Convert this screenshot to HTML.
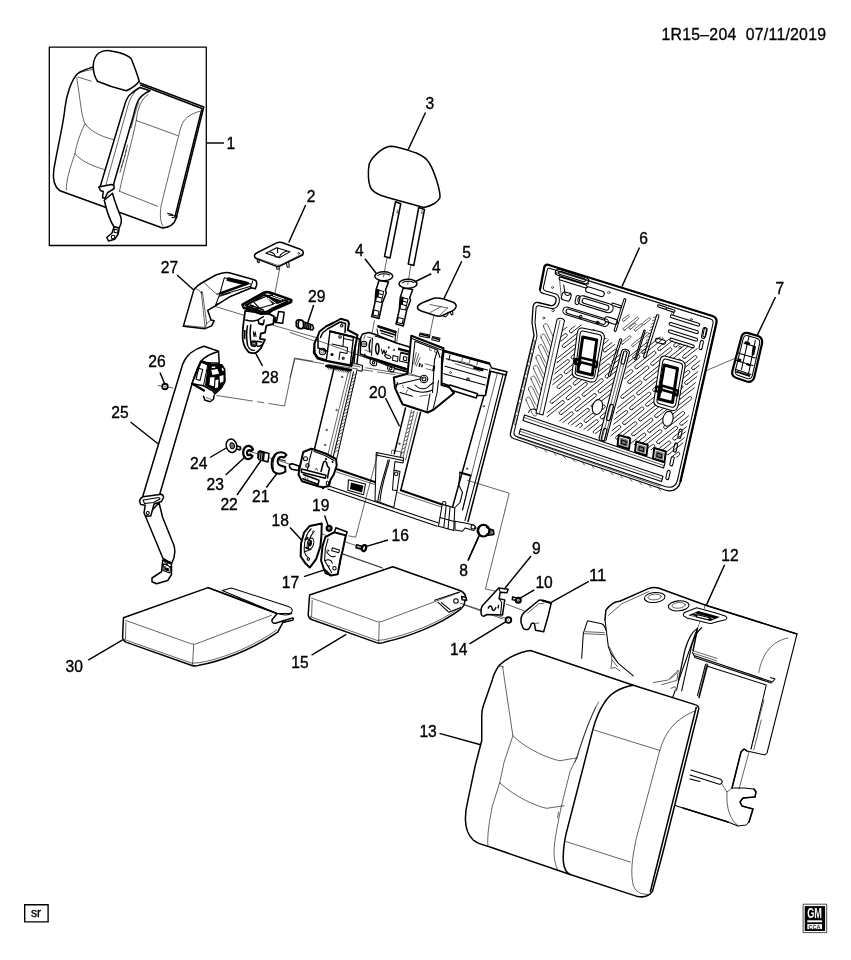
<!DOCTYPE html>
<html><head><meta charset="utf-8">
<style>
html,body{margin:0;padding:0;background:#fff;}
svg{display:block;filter:grayscale(1);}
svg *{vector-effect:non-scaling-stroke;}
.k{fill:none;stroke:#000;stroke-width:1.5;stroke-linejoin:round;stroke-linecap:round;}
.m{fill:none;stroke:#000;stroke-width:1.05;stroke-linejoin:round;stroke-linecap:round;}
.t{fill:none;stroke:#111;stroke-width:0.65;stroke-linejoin:round;stroke-linecap:round;}
.kw{fill:#fff;stroke:#000;stroke-width:1.5;stroke-linejoin:round;stroke-linecap:round;}
.mw{fill:#fff;stroke:#000;stroke-width:1.05;stroke-linejoin:round;stroke-linecap:round;}
.tw{fill:#fff;stroke:#111;stroke-width:0.65;stroke-linejoin:round;}
.b{fill:#000;stroke:none;}
.g{fill:#777;stroke:none;}
.ld{fill:none;stroke:#000;stroke-width:1.45;stroke-linecap:butt;}
.dash{fill:none;stroke:#000;stroke-width:0.8;stroke-dasharray:22 3 5 3;}
text{font-family:"Liberation Sans",sans-serif;font-size:15px;fill:#000;stroke:#000;stroke-width:0.36px;}
</style></head><body>
<svg width="851" height="960" viewBox="0 0 851 960">
<rect x="0" y="0" width="851" height="960" fill="#fff"/>
<text x="661.5" y="40.1" style="font-size:15.8px;stroke-width:0.3px" textLength="164.5" lengthAdjust="spacing" xml:space="preserve">1R15–204  07/11/2019</text>
<!-- inset box + part 1 -->
<rect x="49.3" y="47.2" width="157" height="198.3" class="k" style="stroke-width:1.3"/>
<g transform="translate(40,40) scale(0.25)">
 <!-- seat back outline -->
 <path class="k" d="M213,108 C190,115 162,124 150,135 C125,160 106,220 100,270 C95,330 70,430 55,520 C50,560 60,590 80,603 L490,752 C520,750 537,738 545,712 L655,268 L400,172"/>
 <path class="k" d="M402,180 L648,274 L540,706"/>
 <path class="t" d="M150,135 C170,125 195,120 213,118"/>
 <path class="t" d="M147,150 L162,255 C168,300 175,325 180,335 C210,375 265,392 300,400"/>
 <path class="t" d="M180,335 C160,375 145,420 140,455 C170,490 225,510 265,520"/>
 <path class="t" d="M140,455 C120,510 105,560 105,600"/>
 <path class="t" d="M152,148 L205,165"/>
 <!-- headrest -->
 <path class="kw" d="M213,105 C213,85 220,65 235,52 C250,42 270,40 290,45 C320,50 350,60 365,75 C375,100 390,140 397,165 C385,180 365,195 345,203 C310,195 260,178 230,165 C220,150 213,125 213,105 Z"/>
 <!-- right panel stitching -->
 <path class="t" d="M640,285 C600,295 575,315 565,345 C555,375 500,600 485,660 C478,700 482,730 492,745"/>
 <path class="t" d="M385,322 L550,382"/>
 <path class="t" d="M318,605 L470,665"/>
 <path class="t" d="M432,218 C405,235 390,275 385,322 C370,400 330,540 318,605"/>
 <!-- belt -->
 <path class="kw" d="M239,592 L341,252 C348,232 355,222 363,216 C375,205 390,196 400,190 L440,203 C420,212 400,226 391,246 C382,266 378,285 374,302 L292,585 Z"/>
 <path class="t" d="M380,208 C368,222 358,240 352,262 L262,585 M395,250 C385,275 380,295 365,350"/>
 <path class="t" d="M350,420 l-8,30 M346,440 l-8,30 M340,460 l-8,30 M334,480 l-8,30 M328,500 l-8,30"/>
 <path class="kw" d="M257,641 C268,690 282,725 296,748 L317,751 C326,735 328,720 322,705 C312,680 300,650 290,613 Z"/>
 <path class="kw" d="M235,588 L285,578 L296,581 L296,595 L271,610 L260,633 L250,631 L253,606 L242,602 Z"/>
 <path class="kw" d="M296,748 L317,752 L313,776 L299,797 L274,804 L267,790 L288,772 Z"/>
 <circle cx="292" cy="788" r="7" class="m"/>
 <path class="m" d="M298,757 L312,760 L310,772 L296,769 Z"/>
 <!-- clip bottom right -->
 <path class="m" d="M510,693 L530,698 M515,700 L548,705 L546,712 L528,710"/>
</g>
<path class="ld" d="M207,143 L224,143"/>
<text x="226.6" y="149.1" style="font-size:16.8px" textLength="8.7" lengthAdjust="spacingAndGlyphs">1</text>
<!-- headrest 3, guides 4, cap 5 -->
<g transform="translate(330,90) scale(0.25)">
 <path class="kw" d="M262,447 L283,455 L240,672 L218,666 Z"/>
 <path class="kw" d="M355,470 L378,478 L335,702 L313,696 Z"/>
 <path class="t" d="M268,490 l6,3 M366,492 l6,3 M270,480 l-2,10 M369,482 l-2,10"/>
 <path class="kw" d="M240,225 C210,230 170,265 157,295 C150,330 153,375 165,395 C175,410 200,422 230,430 L375,470 C400,466 432,450 440,430 C442,400 415,320 397,292 C385,272 365,260 345,252 C310,240 270,225 240,225 Z"/>
 <path class="ld" d="M382,90 L312,240"/>
 <!-- center lines -->
 <path class="t" d="M228,672 L216,735 M323,702 L313,765"/>
 <!-- left guide -->
 <g>
  <path class="kw" d="M196,762 L234,768 L222,800 L225,812 L210,850 L196,914 L167,906 L180,850 L184,800 Z"/>
  <path class="m" d="M190,800 L215,806 L205,850 L183,845 Z M186,812 L208,818 M185,826 L206,832"/>
  <path class="m" d="M176,880 L196,885 L192,905 L172,900 Z"/>
  <path class="b" d="M184,795 L198,798 L194,830 L182,826 Z"/>
  <ellipse cx="215" cy="745" rx="36" ry="18" class="kw"/>
  <path class="m" d="M192,742 C200,734 225,733 238,740"/>
  <path class="t" d="M216,735 L214,748"/>
 </g>
 <!-- right guide -->
 <g transform="translate(97,30)">
  <path class="kw" d="M196,762 L234,768 L222,800 L225,812 L210,850 L196,914 L167,906 L180,850 L184,800 Z"/>
  <path class="m" d="M190,800 L215,806 L205,850 L183,845 Z M186,812 L208,818 M185,826 L206,832"/>
  <path class="m" d="M176,880 L196,885 L192,905 L172,900 Z"/>
  <path class="b" d="M184,795 L198,798 L194,830 L182,826 Z"/>
  <ellipse cx="215" cy="745" rx="36" ry="18" class="kw"/>
  <path class="m" d="M192,742 C200,734 225,733 238,740"/>
  <path class="t" d="M216,735 L214,748"/>
 </g>
 <path class="ld" d="M140,675 L186,735"/>
 <path class="ld" d="M405,735 L338,768"/>
 <!-- cap 5 -->
 <path class="kw" d="M350,868 C352,860 360,855 372,850 L415,833 C425,830 440,832 455,836 L490,848 C500,852 506,860 504,868 C500,878 492,884 480,888 L450,902 C440,906 430,905 420,902 L365,884 C355,880 349,875 350,868 Z"/>
 <path class="t" d="M400,858 L470,872 M445,866 L400,890 M470,872 L440,900"/>
 <path class="m" d="M450,902 L462,908 L472,898 L470,892 M480,888 L486,900 L492,896 L490,884"/>
 <path class="ld" d="M527,685 L455,836"/>
 <path class="t" d="M415,903 L400,975 M178,923 L167,978 M275,953 L267,1008"/>
</g>
<text x="425.6" y="109.1" style="font-size:16.8px" textLength="8.7" lengthAdjust="spacingAndGlyphs">3</text>
<text x="355.0" y="255.7" style="font-size:16.8px" textLength="8.7" lengthAdjust="spacingAndGlyphs">4</text>
<text x="432.0" y="272.7" style="font-size:16.8px" textLength="8.7" lengthAdjust="spacingAndGlyphs">4</text>
<text x="462.3" y="257.7" style="font-size:16.8px" textLength="8.7" lengthAdjust="spacingAndGlyphs">5</text>
<!-- parts 2, 27, 28, 29 : 6x zoom origin (180,230) -->
<g transform="translate(180,230) scale(0.166667)">
 <!-- axis lines -->
 <path class="t" d="M200,455 L385,512 M560,572 L851,655 M598,232 L570,378"/>
 <!-- part 2 -->
 <path class="m" d="M462,178 L468,196 L476,194 L474,180 M580,218 L582,236 L594,234 L596,216 M638,198 L644,224 L656,222 L652,192"/>
 <path class="kw" d="M447,152 C448,145 455,140 465,135 L580,77 C590,72 602,72 612,75 L725,117 C737,122 742,132 738,145 L735,150 L605,214 C595,219 585,220 575,217 L458,172 C450,168 446,160 447,152 Z"/>
 <path class="t" d="M452,165 L580,210 C590,213 598,212 606,208 L737,142"/>
 <path class="m" d="M515,140 L580,106 L660,130 L598,166 Z"/>
 <path class="m" d="M540,132 C560,135 570,145 572,160 M640,128 C615,135 600,145 598,163 M572,160 L598,163 M585,108 L586,135"/>
 <circle cx="712" cy="140" r="5" class="t"/>
 <!-- part 27 -->
 <path class="kw" d="M20,578 L82,362 C95,340 118,324 140,312 L215,270 C245,257 275,252 295,256 L445,298 C460,303 463,318 458,335 L452,352 L428,347 L300,400 L212,455 L166,482 L186,540 L205,545 L190,575 L150,592 Z"/>
 <path class="m" d="M266,286 L428,326 L422,348 M266,286 L240,380 L222,386 M432,322 L436,304"/>
 <path class="k" style="stroke-width:2.2" d="M290,290 L400,316 M285,300 L395,326"/>
 <path class="k" style="stroke-width:2.4" d="M240,381 L408,320"/>
 <path class="m" d="M248,390 L425,338 M236,398 L300,378 M212,455 L240,380 M300,400 L428,347"/>
 <path class="b" d="M208,447 L232,436 L226,450 Z"/>
 <path class="t" d="M128,376 L150,580 M135,376 L160,560 M160,560 L186,540 M150,592 L160,560"/>
 <path class="t" d="M95,352 C110,360 120,368 128,376 M140,312 C170,340 200,370 222,386"/>
 <circle cx="129" cy="374" r="4" class="t"/>
 <path class="t" d="M22,572 L150,585"/>
 <!-- part 28 -->
 <path class="kw" d="M592,489 L625,494 L616,560 L578,555 Z"/>
 <path class="b" d="M566,520 L580,522 L576,560 L562,556 Z"/>
 <path class="kw" style="stroke-width:1.8" d="M391,485 L379,574 C375,610 376,640 377,658 C380,680 385,695 391,705 L412,733 C425,740 440,740 452,738 C465,732 478,720 485,710 L510,658 L480,653 L485,621 L510,616 L518,574 L560,564 L564,518 L528,500 Z"/>
 <path class="k" d="M395,540 C420,548 450,546 470,538 L500,520 M405,575 C398,610 398,650 405,690 M425,570 C418,610 420,650 428,690 M470,538 L472,560 L500,566 L505,540"/>
 <path class="m" d="M440,610 l4,30 l8,-28 l4,28 M405,690 C412,712 430,724 448,722"/>
 <circle cx="444" cy="682" r="16" class="k"/><circle cx="444" cy="682" r="8" class="m"/>
 <path class="k" d="M462,668 L490,672 M464,696 C474,700 482,696 488,690"/>
 <path class="b" d="M384,600 L394,600 L392,660 L384,650 Z M476,560 L500,566 L498,574 L474,568 Z"/>
 <path class="kw" style="stroke-width:2.6" d="M375,448 L500,378 C510,373 522,371 534,374 L668,420 L666,432 L556,480 C545,488 535,495 527,500 L485,502 L382,467 Z"/>
 <path class="k" style="stroke-width:2" d="M395,452 L505,390 L645,428 L548,474 L520,490 L488,490 Z"/>
 <path class="mw" d="M440,430 L520,398 L560,445 L478,470 Z"/>
 <path class="b" d="M520,392 L560,384 L640,420 L590,442 L562,444 Z"/>
 <path class="t" style="stroke:#fff;stroke-width:1" d="M545,398 L610,420 M560,392 L625,415 M530,410 L575,440"/>
 <path class="k" d="M400,462 L488,492 M420,450 L500,480 M460,476 l6,-12 M430,465 l6,-12"/>
 <!-- bolt 29 -->
 <path class="kw" d="M738,550 L795,570 L802,590 L794,600 L736,586 Z"/>
 <path class="k" d="M752,556 L749,590 M763,560 L760,593 M774,564 L771,596 M785,568 L782,598"/>
 <path class="kw" style="stroke-width:1.8" d="M698,548 C703,537 720,536 736,544 C744,555 744,577 736,590 C720,594 703,587 698,575 Z"/>
 <path class="k" d="M716,541 C708,555 708,575 714,589"/>
 <path class="ld" d="M495,815 L455,742"/>
</g>
<path class="ld" d="M313.7,305 L307.3,324"/>
<path class="ld" d="M305.7,205 L288.7,242.5"/>
<path class="ld" d="M177,275 L193.7,290"/>
<text x="261.3" y="382.6" style="font-size:16.8px" textLength="17.4" lengthAdjust="spacingAndGlyphs">28</text>
<text x="308.0" y="302.0" style="font-size:16.8px" textLength="17.4" lengthAdjust="spacingAndGlyphs">29</text>
<text x="306.7" y="202.0" style="font-size:16.8px" textLength="8.7" lengthAdjust="spacingAndGlyphs">2</text>
<text x="160.7" y="273.1" style="font-size:16.8px" textLength="17.4" lengthAdjust="spacingAndGlyphs">27</text>
<!-- belt 25, retractor, nut 26, parts 21-24 : 4x zoom origin (100,330) -->
<g transform="translate(100,330) scale(0.25)">
 <!-- dash axis -->
 <path class="t" d="M232,222 L292,232 M467,262 L610,284 M630,287 L655,291 M675,294 L738,304 L778,112 L851,125"/>
 <!-- belt upper -->
 <path class="kw" d="M166,682 L331,136 C345,100 380,75 416,65 L474,85 L477,133 L400,130 C385,160 376,190 371,206 L238,660 Z"/>
 <path class="k" d="M474,86 C440,95 415,110 401,128"/>
 <!-- retractor -->
 <path class="kw" d="M405,127 L431,139 L487,139 L499,158 L500,207 L487,230 L459,256 L454,245 L414,223 L369,215 L371,206 Z"/>
 <path class="b" d="M431,139 L487,139 L499,158 L500,207 L487,230 L462,250 L452,240 L420,222 Z"/>
 <path d="M445,160 L470,156 L476,175 L450,180 Z M478,185 L494,180 L494,205 L480,212 Z M440,190 L458,188 L456,225 L438,220 Z M462,200 L474,198 L472,230 L460,232 Z M490,150 L496,160 L492,166 L486,156 Z M448,146 L462,146 L460,152 L446,152 Z" style="fill:#fff"/>
 <path class="k" style="stroke-width:2.4" d="M405,126 L440,136 M369,215 L416,242"/>
 <path class="m" d="M395,153 L411,158 L400,202 L384,197 Z M431,139 L414,223"/>
 <path class="m" d="M454,245 L459,256 L487,230"/>
 <path class="kw" d="M414,265 L419,280 L440,287 L454,277 L456,262"/>
 <path class="t" d="M425,270 L445,278"/>
 <!-- nut 26 -->
 <circle cx="260" cy="226" r="11" class="kw" style="stroke-width:1.8"/>
 <circle cx="260" cy="226" r="4" class="g"/>
 <!-- belt lower -->
 <path class="kw" d="M183,748 L252,914 L286,934 C297,915 302,885 296,862 L251,751 L236,691 Z"/>
 <path class="kw" d="M158,683 C160,675 165,670 172,667 L246,657 C252,660 255,664 254,670 L246,686 L216,696 L208,726 L203,744 L181,744 L176,731 L181,701 L163,698 Z"/>
 <path class="m" d="M172,680 L236,670 L240,676 L214,690 L178,694 Z"/>
 <circle cx="191" cy="732" r="6" class="m"/>
 <!-- anchor -->
 <path class="kw" d="M251,920 L286,936 L286,978 L271,1002 L226,1015 L208,1007 L208,992 L246,967 Z"/>
 <path class="m" d="M254,935 L282,946 L280,972 L252,962 Z M256,925 L280,950 M280,925 L258,948"/>
 <path class="b" d="M258,948 L276,954 L275,966 L257,960 Z"/>
 <!-- 24 -->
 <path class="kw" d="M535,460 L562,468 L560,480 L533,472 Z"/>
 <ellipse cx="526" cy="463" rx="21" ry="27" class="kw" transform="rotate(-15 526 463)"/>
 <ellipse cx="529" cy="463" rx="9" ry="12" class="g" transform="rotate(-15 529 463)"/>
 <ellipse cx="529" cy="463" rx="9" ry="12" class="m" transform="rotate(-15 529 463)"/>
 <!-- center line -->
 <path class="t" d="M562,474 L770,540"/>
 <!-- 23 -->
 <path class="kw" style="stroke-width:2.2" d="M612,478 C605,462 588,458 578,472 C568,488 572,510 588,516 C598,518 606,512 610,504 L600,498 C594,504 588,500 588,490 C590,480 598,478 604,484 Z"/>
 <!-- 22 -->
 <path class="kw" d="M640,484 L676,494 L672,528 L636,518 Z"/>
 <path class="b" d="M630,488 C630,482 640,480 652,484 L660,490 L656,524 C645,526 632,520 628,512 Z"/>
 <path class="t" style="stroke:#fff" d="M640,492 L637,516 M648,494 L645,520"/>
 <!-- 21 -->
 <path class="kw" style="stroke-width:2" d="M746,500 C735,485 712,485 698,500 C684,518 682,548 694,566 C706,578 728,578 742,566 L740,548 L722,542 C712,540 708,528 712,516 C716,508 726,506 736,510 Z"/>
 <path class="m" d="M694,566 C690,545 692,515 704,498 M712,516 L742,524 M722,542 L744,548"/>
 <!-- shaft stub -->
 <path class="kw" d="M764,536 L800,546 L798,560 L762,552 C758,548 758,540 764,536 Z"/>
 <!-- leaders -->
 <path class="ld" d="M240,170 L258,214 M122,368 L232,455 M440,510 L508,470 M503,580 L582,506 M548,660 L644,522 M665,630 L708,574 M760,790 L812,846"/>
</g>
<text x="148.2" y="367.3" style="font-size:16.8px" textLength="17.4" lengthAdjust="spacingAndGlyphs">26</text>
<text x="111.3" y="418.3" style="font-size:16.8px" textLength="17.4" lengthAdjust="spacingAndGlyphs">25</text>
<text x="190.0" y="468.5" style="font-size:16.8px" textLength="17.4" lengthAdjust="spacingAndGlyphs">24</text>
<text x="206.6" y="490.3" style="font-size:16.8px" textLength="17.4" lengthAdjust="spacingAndGlyphs">23</text>
<text x="220.4" y="510.3" style="font-size:16.8px" textLength="17.4" lengthAdjust="spacingAndGlyphs">22</text>
<text x="252.0" y="501.7" style="font-size:16.8px" textLength="17.4" lengthAdjust="spacingAndGlyphs">21</text>
<text x="271.6" y="525.7" style="font-size:16.8px" textLength="17.4" lengthAdjust="spacingAndGlyphs">18</text>
<!-- frame 20 : 4x zoom origin (290,310) -->
<g transform="translate(290,310) scale(0.25)">
 <!-- assembly lines -->
 <path class="t" d="M0,90 L110,128 M130,135 L480,245 L520,265"/>
 <path class="t" d="M0,270 L20,195 L135,215 M155,218 L330,245 M350,248 L420,258"/>
 <!-- left upright -->
 <path class="k" d="M178,225 L97,560"/>
 <path class="t" d="M233,247 L150,585 M244,247 L160,595"/>
 <path class="m" d="M254,247 L172,592 M271,227 L186,600"/>
 <g class="t"><path d="M252,262 l14,-8 M249,276 l14,-8 M246,290 l14,-8 M242,304 l14,-8 M239,318 l14,-8 M235,332 l14,-8 M232,346 l14,-8 M228,360 l14,-8 M225,374 l14,-8 M221,388 l14,-8 M218,402 l14,-8 M214,416 l14,-8 M211,430 l14,-8 M207,444 l14,-8 M204,458 l14,-8 M200,472 l14,-8 M197,486 l14,-8 M193,500 l14,-8 M190,514 l14,-8 M186,528 l14,-8 M183,542 l14,-8 M179,556 l14,-8 M176,570 l14,-8"/></g>
 <path class="k" style="stroke-width:2" d="M150,222 L245,240"/>
 <path class="t" d="M150,230 L240,247"/>
 <circle cx="208" cy="268" r="3" class="t"/><circle cx="186" cy="400" r="3" class="t"/><circle cx="146" cy="480" r="3" class="t"/><circle cx="140" cy="540" r="3" class="t"/>
 <!-- center upright -->
 <path class="k" d="M462,392 L417,575"/>
 <path class="k" d="M522,410 L443,721"/>
 <path class="t" d="M486,400 L440,590 M497,404 L452,590 M510,408 L462,600"/>
 <g class="t"><path d="M485,412 l11,-5 M481,428 l11,-5 M477,444 l11,-5 M473,460 l11,-5 M469,476 l11,-5 M465,492 l11,-5 M461,508 l11,-5 M457,524 l11,-5 M453,540 l11,-5 M449,556 l11,-5 M445,572 l11,-5"/></g>
 <circle cx="437" cy="535" r="3" class="t"/>
 <!-- right upright -->
 <path class="k" d="M776,342 L736,480 L649,792"/>
 <path class="t" d="M831,247 L771,480 L690,800"/>
 <path class="m" d="M854,250 L796,480 L700,842"/>
 <path class="k" d="M867,248 L807,480 L712,846"/>
 <circle cx="775" cy="385" r="3" class="t"/><circle cx="708" cy="635" r="3" class="t"/>
 <path class="k" style="stroke-width:2" d="M680,650 L722,662"/>
 <!-- bottom rail -->
 <path class="k" style="stroke-width:2" d="M186,636 L345,690 M443,721 L649,792"/>
 <path class="t" d="M186,648 L345,700 M430,730 L612,790"/>
 <path class="m" d="M161,706 L594,852 M151,716 L589,865"/>
 <path class="m" d="M234,679 L302,696 L294,739 L231,721 Z"/>
 <path class="b" d="M244,690 L294,703 L288,730 L240,716 Z"/>
 <!-- rail end block -->
 <path class="mw" d="M609,777 L659,792 L655,882 L594,865 Z"/>
 <path class="m" d="M625,782 L615,870 M640,790 L632,876 M600,830 L657,846"/>
 <circle cx="617" cy="773" r="7" class="mw"/>
 <path class="m" d="M680,650 L675,700 L690,730 L680,770 L660,790 M722,662 L700,760 L690,800"/>
 <path class="mw" d="M660,845 L700,852 L735,860 L745,872 L735,882 L700,872 L690,885 L660,880 Z"/>
 <circle cx="732" cy="868" r="8" class="mw"/>
 <!-- center upright bottom bracket -->
 <path class="mw" d="M345,570 L455,592 L452,612 L420,606 L416,640 L440,646 L428,722 L415,790 L340,762 Z"/>
 <path class="m" d="M345,580 L452,602 M398,600 C385,650 365,700 360,765 M392,600 C380,650 360,700 352,762 M416,640 L410,720 L428,722"/>
 <circle cx="425" cy="655" r="7" class="m"/>
 <path class="t" d="M405,575 L408,560 L445,568 L443,590"/>
 <!-- lower left hinge bracket -->
 <path class="kw" d="M-2,619 L9,615 L37,625 L34,642 L6,637 L-2,627 Z"/>
 <path class="kw" style="stroke-width:2" d="M53,568 L85,555 L96,558 L144,575 L184,596 L187,622 L175,658 L161,681 L156,704 L133,709 L116,706 L48,685 L34,658 L40,625 Z"/>
 <path class="m" d="M88,562 L78,598 L70,640 M96,566 L140,582 L176,602"/>
 <path class="k" d="M46,636 L144,661 L141,673 L46,649 Z M54,658 L116,681 L113,698 L51,675"/>
 <path class="k" d="M124,646 L133,613 C136,604 142,602 146,610 L150,625 L158,633 L153,655 L150,672"/>
 <circle cx="62" cy="595" r="8" class="m"/><circle cx="70" cy="622" r="7" class="m"/>
 <circle cx="144" cy="596" r="4.5" class="b"/><circle cx="170" cy="608" r="4" class="b"/>
 <ellipse cx="150" cy="693" rx="5" ry="8" class="m"/><circle cx="132" cy="712" r="5" class="b"/>
 <path class="t" d="M62,668 l-3,14 M72,671 l-3,14 M100,640 l6,-8 l4,10"/>
 <!-- top-left bracket -->
 <path class="kw" style="stroke-width:2" d="M110,108 L118,86 L145,65 L176,50 L203,35 L231,43 L236,53 L231,80 L270,100 L262,140 L246,224 L145,204 L110,194 L95,171 L98,133 Z"/>
 <path class="k" d="M122,110 L130,92 L150,76 L200,48 L222,54 L220,90"/>
 <path class="mw" style="stroke-width:1.4" d="M160,85 L254,108 L241,220 L145,202 L150,165 Z"/>
 <path class="k" style="stroke-width:2.2" d="M160,85 L254,108"/>
 <path class="m" d="M168,136 L230,150 L228,174 L200,168 L196,198 M215,102 L212,145 M250,122 L215,114"/>
 <path class="k" d="M98,133 L100,172 L112,190 L145,200 M150,165 L112,152 L112,112"/>
 <circle cx="130" cy="166" r="13" class="m"/><circle cx="130" cy="166" r="7" class="t"/>
 <circle cx="200" cy="108" r="7" class="b"/><circle cx="200" cy="108" r="3" style="fill:#fff"/>
 <circle cx="168" cy="178" r="6" class="b"/><circle cx="213" cy="193" r="4" class="m"/>
 <circle cx="207" cy="63" r="5" class="m"/><path class="t" d="M207,45 L207,58"/>
 <path class="k" style="stroke-width:2.4" d="M145,224 L241,241"/>
 <path class="t" d="M150,230 l6,8 M160,232 l6,8 M170,234 l6,8 M180,236 l6,8 M190,238 l6,8 M200,240 l6,8 M210,242 l6,8 M220,243 l6,8 M230,245 l6,8"/>
 <!-- upright top tube -->
 <path class="k" d="M254,108 L278,116 L268,215 M262,140 L256,215"/>
 <path class="mw" d="M262,215 L290,222 L288,245 L272,242"/>
 <!-- center latch -->
 <path class="kw" d="M290,96 L316,90 L347,100 L422,131 L488,151 L488,252 L412,232 L322,191 L281,176 L283,110 Z"/>
 <path class="k" style="stroke-width:2.8" d="M354,66 L422,88"/>
 <path class="k" style="stroke-width:1.8" d="M362,82 L422,100"/>
 <path class="m" d="M348,76 L352,98 M422,90 L420,130 M365,92 L412,108 M340,104 L420,128"/>
 <circle cx="296" cy="136" r="11" class="m"/><circle cx="296" cy="136" r="5" class="t"/>
 <path class="k" d="M346,136 C340,150 342,172 350,178 C356,170 358,150 354,138 M322,120 C316,135 316,155 320,168"/>
 <path class="m" d="M366,156 l4,20 l6,-16 l5,18 l5,-14 M330,112 L326,182"/>
 <circle cx="350" cy="135" r="4" class="b"/><circle cx="395" cy="150" r="4" class="b"/><circle cx="415" cy="160" r="3" class="t"/>
 <path class="m" d="M378,182 C384,176 398,180 404,190 C398,198 384,194 378,182 Z M412,182 L432,187 L430,206 L410,201 Z M442,172 L478,180 L474,212 L438,204 Z M455,186 L468,189 L466,203 L453,200 Z"/>
 <path class="b" d="M432,150 L486,164 L486,174 L432,160 Z M442,166 L480,175 L480,180 L442,171 Z"/>
 <path class="k" style="stroke-width:2.6" d="M322,192 L462,236"/>
 <path class="mw" d="M322,196 L348,205 L345,222 C335,226 322,220 320,210 Z M392,222 L418,230 L415,246 C405,250 392,244 390,234 Z"/>
 <circle cx="334" cy="211" r="5" class="m"/><circle cx="403" cy="234" r="5" class="m"/>
 <path class="m" d="M425,222 L470,236 L468,252 M300,176 L296,186 L320,196"/>
 <path class="t" d="M300,100 l-4,16 M310,108 l16,4 M300,160 l14,6"/>
 <!-- right latch section -->
 <path class="kw" d="M616,164 L797,214 L807,232 L867,247 L864,260 L802,245 L782,342 L747,342 L636,302 L600,290 Z"/>
 <path class="k" style="stroke-width:2.4" d="M616,164 L797,214"/>
 <path class="m" d="M625,195 L790,240 M620,225 L785,272 M615,255 L780,300 M640,180 L636,200 M800,235 L782,330"/>
 <path class="t" d="M650,205 C680,200 720,215 760,235 M660,215 L760,245 M690,190 l-3,14 M720,198 l-3,14 M750,206 l-3,14"/>
 <path class="b" d="M735,225 L775,236 L772,246 L732,235 Z"/>
 <circle cx="712" cy="277" r="5" class="m"/><circle cx="642" cy="250" r="4" class="t"/>
 <path class="kw" d="M640,300 L750,335 L745,352 L630,316 Z"/>
 <!-- big center bracket -->
 <path class="mw" d="M520,92 L560,100 L557,112 L517,104 Z M570,106 L600,113 L597,126 L567,119 Z"/>
 <path class="b" d="M522,94 L558,102 L556,108 L520,100 Z M572,108 L598,115 L596,121 L570,114 Z"/>
 <path class="kw" style="stroke-width:2" d="M485,103 L614,153 L608,191 L606,300 L636,308 L656,332 L575,398 L551,410 L450,377 L420,312 L415,270 L470,255 L480,160 Z"/>
 <path class="m" d="M490,115 L606,160 M500,125 L590,160 L578,200 L570,330 M500,125 L486,250 M590,160 L600,190"/>
 <path class="t" d="M505,170 L495,215 M515,175 L500,220 M520,190 L505,225 M560,150 l-2,10 l8,2 M580,158 l-2,10 l8,2 M540,215 L575,225 M545,235 L572,242"/>
 <path class="b" d="M517,212 l6,2 l-3,14 l-6,-2 Z M527,216 l5,2 l-3,12 l-5,-2 Z M573,222 l8,2 l-4,22 l-8,-2 Z"/>
 <circle cx="536" cy="276" r="15" class="mw"/><circle cx="536" cy="276" r="8" class="m"/>
 <path class="m" d="M420,300 C460,290 500,280 520,276 M500,300 C520,320 545,320 560,300 L575,290 M470,310 C500,330 540,335 570,320 M440,330 L490,345 M430,290 L425,310"/>
 <path class="m" d="M594,282 L588,332 L572,398 M560,335 L548,405"/>
 <path class="t" d="M450,300 l4,10 M470,320 l-6,12 M520,345 l30,-5"/>
 <!-- label 20 leader -->
 <path class="ld" d="M382,352 L438,465"/>
</g>
<text x="369.0" y="397.6" style="font-size:16.8px" textLength="17.4" lengthAdjust="spacingAndGlyphs">20</text>
<path class="t" d="M317.5,340.4 L424,378.5 M329.7,361.8 L360,366.8 M366,367.8 L421.4,377"/>
<!-- panel 6 : 4x zoom origin (505,240) -->
<g transform="translate(505,240) scale(0.25)">
<path class="kw" style="stroke-width:1.3" d="M172,99 C164,98 159,102 157,110 L140,198 C140,206 146,212 154,214 L196,226 C204,229 206,238 203,248 C200,258 192,264 182,262 L132,250 C120,248 113,256 112,268 L108,330 L116,382 L22,772 C20,782 24,790 34,794 L640,1000 C660,1006 676,1004 688,992 C696,985 700,975 702,965 L846,330 C848,318 842,308 830,304 Z"/>
<path class="k" style="stroke-width:2.3" d="M140,198 L157,110 C159,102 164,98 172,99 L830,304 C842,308 848,318 846,330 L702,965"/>
<path class="m" d="M178,113 C173,112 170,115 169,120 L153,192 C153,198 157,202 163,204 L204,216 C216,220 220,236 216,252 C212,266 200,276 186,274 L136,263 C128,262 124,266 124,274 L120,330 L128,384 L36,770 C35,778 38,782 44,785 L640,986 C656,991 668,990 678,982 C685,976 688,968 690,960 L832,334 C834,324 830,318 822,316 Z"/>
<defs>
<clipPath id="cpA"><path d="M232,350 L330,335 L470,440 L385,782 L165,708 Z"/></clipPath>
<clipPath id="cpB"><path d="M500,455 L600,380 L790,440 L700,875 L420,792 Z"/></clipPath>
</defs>
<g clip-path="url(#cpA)"><path class="t" style="stroke-width:0.85;stroke:#000" d="M203.2,383.8 L275.2,326.5 A6.5,6.5 0 0 0 267.1,316.4 L195.1,373.6 A6.5,6.5 0 0 0 203.2,383.8 Z M175.2,443.0 L247.2,385.7 A6.5,6.5 0 0 0 239.1,375.6 L167.1,432.8 A6.5,6.5 0 0 0 175.2,443.0 Z M267.2,369.8 L339.2,312.6 A6.5,6.5 0 0 0 331.1,302.4 L259.1,359.7 A6.5,6.5 0 0 0 267.2,369.8 Z M239.2,429.0 L311.2,371.8 A6.5,6.5 0 0 0 303.1,361.6 L231.1,418.9 A6.5,6.5 0 0 0 239.2,429.0 Z M211.1,488.2 L283.1,431.0 A6.5,6.5 0 0 0 275.0,420.8 L203.0,478.1 A6.5,6.5 0 0 0 211.1,488.2 Z M303.2,415.1 L375.2,357.8 A6.5,6.5 0 0 0 367.1,347.6 L295.1,404.9 A6.5,6.5 0 0 0 303.2,415.1 Z M183.1,547.4 L255.1,490.2 A6.5,6.5 0 0 0 247.0,480.0 L175.0,537.3 A6.5,6.5 0 0 0 183.1,547.4 Z M275.1,474.3 L347.1,417.0 A6.5,6.5 0 0 0 339.0,406.8 L267.0,464.1 A6.5,6.5 0 0 0 275.1,474.3 Z M367.2,401.1 L439.2,343.9 A6.5,6.5 0 0 0 431.1,333.7 L359.1,390.9 A6.5,6.5 0 0 0 367.2,401.1 Z M155.0,606.6 L227.1,549.4 A6.5,6.5 0 0 0 219.0,539.2 L146.9,596.5 A6.5,6.5 0 0 0 155.0,606.6 Z M247.1,533.5 L319.1,476.2 A6.5,6.5 0 0 0 311.0,466.0 L239.0,523.3 A6.5,6.5 0 0 0 247.1,533.5 Z M339.1,460.3 L411.1,403.1 A6.5,6.5 0 0 0 403.0,392.9 L331.0,450.1 A6.5,6.5 0 0 0 339.1,460.3 Z M219.0,592.7 L291.1,535.4 A6.5,6.5 0 0 0 283.0,525.2 L210.9,582.5 A6.5,6.5 0 0 0 219.0,592.7 Z M311.1,519.5 L383.1,462.3 A6.5,6.5 0 0 0 375.0,452.1 L303.0,509.3 A6.5,6.5 0 0 0 311.1,519.5 Z M403.1,446.4 L475.1,389.1 A6.5,6.5 0 0 0 467.0,378.9 L395.0,436.2 A6.5,6.5 0 0 0 403.1,446.4 Z M191.0,651.9 L263.0,594.6 A6.5,6.5 0 0 0 254.9,584.4 L182.9,641.7 A6.5,6.5 0 0 0 191.0,651.9 Z M283.0,578.7 L355.1,521.5 A6.5,6.5 0 0 0 347.0,511.3 L274.9,568.5 A6.5,6.5 0 0 0 283.0,578.7 Z M375.1,505.6 L447.1,448.3 A6.5,6.5 0 0 0 439.0,438.1 L367.0,495.4 A6.5,6.5 0 0 0 375.1,505.6 Z M163.0,711.1 L235.0,653.8 A6.5,6.5 0 0 0 226.9,643.6 L154.9,700.9 A6.5,6.5 0 0 0 163.0,711.1 Z M255.0,637.9 L327.0,580.7 A6.5,6.5 0 0 0 318.9,570.5 L246.9,627.7 A6.5,6.5 0 0 0 255.0,637.9 Z M347.0,564.8 L419.1,507.5 A6.5,6.5 0 0 0 411.0,497.3 L338.9,554.6 A6.5,6.5 0 0 0 347.0,564.8 Z M439.1,491.6 L511.1,434.3 A6.5,6.5 0 0 0 503.0,424.2 L431.0,481.4 A6.5,6.5 0 0 0 439.1,491.6 Z M227.0,697.1 L299.0,639.9 A6.5,6.5 0 0 0 290.9,629.7 L218.9,686.9 A6.5,6.5 0 0 0 227.0,697.1 Z M319.0,624.0 L391.0,566.7 A6.5,6.5 0 0 0 382.9,556.5 L310.9,613.8 A6.5,6.5 0 0 0 319.0,624.0 Z M411.0,550.8 L483.1,493.5 A6.5,6.5 0 0 0 475.0,483.4 L402.9,540.6 A6.5,6.5 0 0 0 411.0,550.8 Z M198.9,756.3 L270.9,699.1 A6.5,6.5 0 0 0 262.8,688.9 L190.8,746.1 A6.5,6.5 0 0 0 198.9,756.3 Z M291.0,683.2 L363.0,625.9 A6.5,6.5 0 0 0 354.9,615.7 L282.9,673.0 A6.5,6.5 0 0 0 291.0,683.2 Z M383.0,610.0 L455.0,552.7 A6.5,6.5 0 0 0 446.9,542.6 L374.9,599.8 A6.5,6.5 0 0 0 383.0,610.0 Z M262.9,742.4 L334.9,685.1 A6.5,6.5 0 0 0 326.8,674.9 L254.8,732.2 A6.5,6.5 0 0 0 262.9,742.4 Z M355.0,669.2 L427.0,611.9 A6.5,6.5 0 0 0 418.9,601.8 L346.9,659.0 A6.5,6.5 0 0 0 355.0,669.2 Z M234.9,801.6 L306.9,744.3 A6.5,6.5 0 0 0 298.8,734.1 L226.8,791.4 A6.5,6.5 0 0 0 234.9,801.6 Z M326.9,728.4 L398.9,671.1 A6.5,6.5 0 0 0 390.8,661.0 L318.8,718.2 A6.5,6.5 0 0 0 326.9,728.4 Z M298.9,787.6 L370.9,730.3 A6.5,6.5 0 0 0 362.8,720.2 L290.8,777.4 A6.5,6.5 0 0 0 298.9,787.6 Z M390.9,714.4 L462.9,657.2 A6.5,6.5 0 0 0 454.8,647.0 L382.8,704.3 A6.5,6.5 0 0 0 390.9,714.4 Z M362.9,773.6 L434.9,716.4 A6.5,6.5 0 0 0 426.8,706.2 L354.8,763.5 A6.5,6.5 0 0 0 362.9,773.6 Z"/></g>
<g clip-path="url(#cpB)"><path class="t" style="stroke-width:0.85;stroke:#000" d="M493.2,468.8 L565.2,411.5 A6.5,6.5 0 0 0 557.1,401.4 L485.1,458.6 A6.5,6.5 0 0 0 493.2,468.8 Z M465.2,528.0 L537.2,470.7 A6.5,6.5 0 0 0 529.1,460.6 L457.1,517.8 A6.5,6.5 0 0 0 465.2,528.0 Z M557.2,454.8 L629.2,397.6 A6.5,6.5 0 0 0 621.1,387.4 L549.1,444.7 A6.5,6.5 0 0 0 557.2,454.8 Z M437.1,587.2 L509.1,529.9 A6.5,6.5 0 0 0 501.0,519.8 L429.0,577.0 A6.5,6.5 0 0 0 437.1,587.2 Z M529.2,514.0 L601.2,456.8 A6.5,6.5 0 0 0 593.1,446.6 L521.1,503.9 A6.5,6.5 0 0 0 529.2,514.0 Z M621.2,440.9 L693.2,383.6 A6.5,6.5 0 0 0 685.1,373.4 L613.1,430.7 A6.5,6.5 0 0 0 621.2,440.9 Z M501.1,573.2 L573.1,516.0 A6.5,6.5 0 0 0 565.0,505.8 L493.0,563.1 A6.5,6.5 0 0 0 501.1,573.2 Z M593.2,500.1 L665.2,442.8 A6.5,6.5 0 0 0 657.1,432.6 L585.1,489.9 A6.5,6.5 0 0 0 593.2,500.1 Z M685.2,426.9 L757.2,369.7 A6.5,6.5 0 0 0 749.1,359.5 L677.1,416.7 A6.5,6.5 0 0 0 685.2,426.9 Z M473.1,632.4 L545.1,575.2 A6.5,6.5 0 0 0 537.0,565.0 L465.0,622.3 A6.5,6.5 0 0 0 473.1,632.4 Z M565.1,559.3 L637.1,502.0 A6.5,6.5 0 0 0 629.0,491.8 L557.0,549.1 A6.5,6.5 0 0 0 565.1,559.3 Z M657.2,486.1 L729.2,428.9 A6.5,6.5 0 0 0 721.1,418.7 L649.1,475.9 A6.5,6.5 0 0 0 657.2,486.1 Z M445.0,691.6 L517.1,634.4 A6.5,6.5 0 0 0 509.0,624.2 L436.9,681.5 A6.5,6.5 0 0 0 445.0,691.6 Z M537.1,618.5 L609.1,561.2 A6.5,6.5 0 0 0 601.0,551.0 L529.0,608.3 A6.5,6.5 0 0 0 537.1,618.5 Z M629.1,545.3 L701.1,488.1 A6.5,6.5 0 0 0 693.0,477.9 L621.0,535.1 A6.5,6.5 0 0 0 629.1,545.3 Z M721.2,472.2 L793.2,414.9 A6.5,6.5 0 0 0 785.1,404.7 L713.1,462.0 A6.5,6.5 0 0 0 721.2,472.2 Z M417.0,750.8 L489.0,693.6 A6.5,6.5 0 0 0 480.9,683.4 L408.9,740.7 A6.5,6.5 0 0 0 417.0,750.8 Z M509.0,677.7 L581.1,620.4 A6.5,6.5 0 0 0 573.0,610.2 L500.9,667.5 A6.5,6.5 0 0 0 509.0,677.7 Z M601.1,604.5 L673.1,547.3 A6.5,6.5 0 0 0 665.0,537.1 L593.0,594.3 A6.5,6.5 0 0 0 601.1,604.5 Z M693.1,531.4 L765.1,474.1 A6.5,6.5 0 0 0 757.0,463.9 L685.0,521.2 A6.5,6.5 0 0 0 693.1,531.4 Z M389.0,810.0 L461.0,752.8 A6.5,6.5 0 0 0 452.9,742.6 L380.9,799.9 A6.5,6.5 0 0 0 389.0,810.0 Z M481.0,736.9 L553.0,679.6 A6.5,6.5 0 0 0 544.9,669.4 L472.9,726.7 A6.5,6.5 0 0 0 481.0,736.9 Z M573.0,663.7 L645.1,606.5 A6.5,6.5 0 0 0 637.0,596.3 L564.9,653.5 A6.5,6.5 0 0 0 573.0,663.7 Z M665.1,590.6 L737.1,533.3 A6.5,6.5 0 0 0 729.0,523.1 L657.0,580.4 A6.5,6.5 0 0 0 665.1,590.6 Z M757.1,517.4 L829.1,460.1 A6.5,6.5 0 0 0 821.0,450.0 L749.0,507.2 A6.5,6.5 0 0 0 757.1,517.4 Z M453.0,796.1 L525.0,738.8 A6.5,6.5 0 0 0 516.9,728.6 L444.9,785.9 A6.5,6.5 0 0 0 453.0,796.1 Z M545.0,722.9 L617.0,665.7 A6.5,6.5 0 0 0 608.9,655.5 L536.9,712.7 A6.5,6.5 0 0 0 545.0,722.9 Z M637.0,649.8 L709.1,592.5 A6.5,6.5 0 0 0 701.0,582.3 L628.9,639.6 A6.5,6.5 0 0 0 637.0,649.8 Z M729.1,576.6 L801.1,519.3 A6.5,6.5 0 0 0 793.0,509.2 L721.0,566.4 A6.5,6.5 0 0 0 729.1,576.6 Z M424.9,855.3 L496.9,798.0 A6.5,6.5 0 0 0 488.8,787.8 L416.8,845.1 A6.5,6.5 0 0 0 424.9,855.3 Z M517.0,782.1 L589.0,724.9 A6.5,6.5 0 0 0 580.9,714.7 L508.9,771.9 A6.5,6.5 0 0 0 517.0,782.1 Z M609.0,709.0 L681.0,651.7 A6.5,6.5 0 0 0 672.9,641.5 L600.9,698.8 A6.5,6.5 0 0 0 609.0,709.0 Z M701.0,635.8 L773.1,578.5 A6.5,6.5 0 0 0 765.0,568.4 L692.9,625.6 A6.5,6.5 0 0 0 701.0,635.8 Z M488.9,841.3 L560.9,784.1 A6.5,6.5 0 0 0 552.8,773.9 L480.8,831.1 A6.5,6.5 0 0 0 488.9,841.3 Z M581.0,768.2 L653.0,710.9 A6.5,6.5 0 0 0 644.9,700.7 L572.9,758.0 A6.5,6.5 0 0 0 581.0,768.2 Z M673.0,695.0 L745.0,637.7 A6.5,6.5 0 0 0 736.9,627.6 L664.9,684.8 A6.5,6.5 0 0 0 673.0,695.0 Z M552.9,827.4 L624.9,770.1 A6.5,6.5 0 0 0 616.8,759.9 L544.8,817.2 A6.5,6.5 0 0 0 552.9,827.4 Z M645.0,754.2 L717.0,696.9 A6.5,6.5 0 0 0 708.9,686.8 L636.9,744.0 A6.5,6.5 0 0 0 645.0,754.2 Z M524.9,886.6 L596.9,829.3 A6.5,6.5 0 0 0 588.8,819.1 L516.8,876.4 A6.5,6.5 0 0 0 524.9,886.6 Z M616.9,813.4 L688.9,756.1 A6.5,6.5 0 0 0 680.8,746.0 L608.8,803.2 A6.5,6.5 0 0 0 616.9,813.4 Z M709.0,740.2 L781.0,683.0 A6.5,6.5 0 0 0 772.9,672.8 L700.9,730.1 A6.5,6.5 0 0 0 709.0,740.2 Z M588.9,872.6 L660.9,815.3 A6.5,6.5 0 0 0 652.8,805.2 L580.8,862.4 A6.5,6.5 0 0 0 588.9,872.6 Z M680.9,799.4 L752.9,742.2 A6.5,6.5 0 0 0 744.8,732.0 L672.8,789.3 A6.5,6.5 0 0 0 680.9,799.4 Z M652.9,858.6 L724.9,801.4 A6.5,6.5 0 0 0 716.8,791.2 L644.8,848.5 A6.5,6.5 0 0 0 652.9,858.6 Z M624.8,917.8 L696.9,860.6 A6.5,6.5 0 0 0 688.8,850.4 L616.7,907.7 A6.5,6.5 0 0 0 624.8,917.8 Z"/></g>
<path class="t" d="M154.3,346.8 L181.4,404.8 A9.0,9.0 0 0 0 197.7,397.2 L170.6,339.2 A9.0,9.0 0 0 0 154.3,346.8 Z M144.3,388.8 L171.4,446.8 A9.0,9.0 0 0 0 187.7,439.2 L160.6,381.2 A9.0,9.0 0 0 0 144.3,388.8 Z M134.3,430.8 L161.4,488.8 A9.0,9.0 0 0 0 177.7,481.2 L150.6,423.2 A9.0,9.0 0 0 0 134.3,430.8 Z M124.3,472.8 L151.4,530.8 A9.0,9.0 0 0 0 167.7,523.2 L140.6,465.2 A9.0,9.0 0 0 0 124.3,472.8 Z M114.3,514.8 L141.4,572.8 A9.0,9.0 0 0 0 157.7,565.2 L130.6,507.2 A9.0,9.0 0 0 0 114.3,514.8 Z M104.3,556.8 L131.4,614.8 A9.0,9.0 0 0 0 147.7,607.2 L120.6,549.2 A9.0,9.0 0 0 0 104.3,556.8 Z M94.3,598.8 L121.4,656.8 A9.0,9.0 0 0 0 137.7,649.2 L110.6,591.2 A9.0,9.0 0 0 0 94.3,598.8 Z M84.3,640.8 L111.4,698.8 A9.0,9.0 0 0 0 127.7,691.2 L100.6,633.2 A9.0,9.0 0 0 0 84.3,640.8 Z"/>
<path class="t" d="M111.4,404.5 L104.8,433.7 A4.0,4.0 0 0 0 112.6,435.5 L119.2,406.3 A4.0,4.0 0 0 0 111.4,404.5 Z M99.9,454.5 L93.3,483.7 A4.0,4.0 0 0 0 101.1,485.5 L107.7,456.3 A4.0,4.0 0 0 0 99.9,454.5 Z M88.4,504.5 L81.8,533.7 A4.0,4.0 0 0 0 89.6,535.5 L96.2,506.3 A4.0,4.0 0 0 0 88.4,504.5 Z M76.9,554.5 L70.3,583.7 A4.0,4.0 0 0 0 78.1,585.5 L84.7,556.3 A4.0,4.0 0 0 0 76.9,554.5 Z M65.4,604.5 L58.8,633.7 A4.0,4.0 0 0 0 66.6,635.5 L73.2,606.3 A4.0,4.0 0 0 0 65.4,604.5 Z M53.9,654.5 L47.3,683.7 A4.0,4.0 0 0 0 55.1,685.5 L61.7,656.3 A4.0,4.0 0 0 0 53.9,654.5 Z M42.4,704.5 L35.8,733.7 A4.0,4.0 0 0 0 43.6,735.5 L50.2,706.3 A4.0,4.0 0 0 0 42.4,704.5 Z"/>
<path class="m" d="M797.0,356.0 L791.3,381.4 A6.0,6.0 0 0 0 803.0,384.0 L808.7,358.6 A6.0,6.0 0 0 0 797.0,356.0 Z M782.0,406.0 L776.3,431.4 A6.0,6.0 0 0 0 788.0,434.0 L793.7,408.6 A6.0,6.0 0 0 0 782.0,406.0 Z M697.0,761.0 L691.3,786.4 A6.0,6.0 0 0 0 703.0,789.0 L708.7,763.6 A6.0,6.0 0 0 0 697.0,761.0 Z M679.0,816.0 L673.3,841.4 A6.0,6.0 0 0 0 685.0,844.0 L690.7,818.6 A6.0,6.0 0 0 0 679.0,816.0 Z M665.0,871.0 L659.3,896.4 A6.0,6.0 0 0 0 671.0,899.0 L676.7,873.6 A6.0,6.0 0 0 0 665.0,871.0 Z M649.0,926.0 L643.3,951.4 A6.0,6.0 0 0 0 655.0,954.0 L660.7,928.6 A6.0,6.0 0 0 0 649.0,926.0 Z"/>
<path class="mw" d="M208,318 C215,310 232,312 238,322 L152,700 L124,692 Z"/>
<path class="t" d="M220,322 L138,694"/>
<path class="mw" d="M466,445 C470,432 495,436 498,450 L404,800 C398,810 378,806 376,794 Z"/>
<path class="t" d="M476,448 L388,798 M488,450 L398,800"/>
<path class="m" d="M474.2,448.9 L464.2,487.6 A7.0,7.0 0 0 0 477.8,491.1 L487.8,452.4 A7.0,7.0 0 0 0 474.2,448.9 Z M418.5,663.8 L406.0,712.2 A8.0,8.0 0 0 0 421.5,716.2 L434.0,667.8 A8.0,8.0 0 0 0 418.5,663.8 Z M393.7,758.8 L384.7,793.7 A7.0,7.0 0 0 0 398.3,797.2 L407.3,762.3 A7.0,7.0 0 0 0 393.7,758.8 Z"/>
<path class="mw" d="M78,700 L640,892 L634,912 L72,722 Z"/>
<path class="t" d="M76,710 L636,902"/>
<path class="mw" d="M62,755 L632,945 L626,966 L56,776 Z"/>
<path class="t" d="M60,765 L630,956 M50,790 L620,985"/>
<path class="m" d="M95,690 C95,678 110,672 125,680"/>
<path class="t" d="M120,826.0 l8,10 M158,838.9 l8,10 M196,851.8 l8,10 M234,864.7 l8,10 M272,877.6 l8,10 M310,890.5 l8,10 M348,903.4 l8,10 M386,916.3 l8,10 M424,929.2 l8,10 M462,942.1 l8,10 M500,955.0 l8,10 M538,967.9 l8,10 M576,980.8 l8,10 M614,993.7 l8,10"/>
<path class="mw" d="M309,352 L379,366 C393,370 399,380 397,394 L369,548 C366,562 355,570 341,568 L287,552 C273,548 267,538 269,524 L289,372 C291,358 299,350 309,352 Z"/>
<path class="m" d="M312,364 L375,378 C384,380 387,386 386,394 L359,542 C357,552 351,556 343,555 L293,542 C284,540 280,534 281,526 L300,378 C301,368 305,363 312,364 Z"/>
<path class="kw" style="stroke-width:3" d="M311,388 L367,400 L349,540 L291,526 Z"/>
<path class="k" style="stroke-width:2.4" d="M301,470 L359,484 M299,488 L357,502 M281,476 L301,480 L299,498 L279,494 Z M359,486 L369,489 L366,508 L356,505"/>
<path class="mw" d="M640,464 L705,482 C718,486 722,496 720,508 L692,664 C689,678 680,684 666,682 L612,666 C598,662 594,652 596,640 L620,482 C622,468 630,462 640,464 Z"/>
<path class="m" d="M642,476 L700,492 C708,494 711,500 710,508 L683,656 C681,666 676,670 668,669 L618,655 C610,653 607,647 608,640 L630,490 C632,480 636,475 642,476 Z"/>
<path class="kw" style="stroke-width:3" d="M637,500 L690,514 L670,650 L614,636 Z"/>
<path class="k" style="stroke-width:2.4" d="M626,582 L682,598 M624,598 L680,614 M606,586 L626,590 L623,608 L603,604 Z M682,600 L692,603 L689,622 L679,619"/>
<path class="kw" style="stroke-width:2" d="M455,780 L501,794 L496,836 L450,822 Z"/>
<path class="g" d="M461,790 L493,800 L490,828 L458,818 Z"/>
<path class="m" d="M467,800 L485,806 L483,820 L465,814 Z"/>
<path class="kw" style="stroke-width:2" d="M525,806 L571,820 L566,862 L520,848 Z"/>
<path class="g" d="M531,816 L563,826 L560,854 L528,844 Z"/>
<path class="m" d="M537,826 L555,832 L553,846 L535,840 Z"/>
<path class="kw" style="stroke-width:2" d="M597,832 L643,846 L638,888 L592,874 Z"/>
<path class="g" d="M603,842 L635,852 L632,880 L600,870 Z"/>
<path class="m" d="M609,852 L627,858 L625,872 L607,866 Z"/>
<path class="m" d="M218.5,136.9 L314.0,166.6 A6.0,6.0 0 0 0 317.5,155.1 L222.0,125.4 A6.0,6.0 0 0 0 218.5,136.9 Z M220.6,160.3 L319.9,191.2 A6.0,6.0 0 0 0 323.4,179.7 L224.1,148.8 A6.0,6.0 0 0 0 220.6,160.3 Z M209.1,140.2 L319.8,174.7 A12.0,12.0 0 0 0 326.9,151.8 L216.2,117.3 A12.0,12.0 0 0 0 209.1,140.2 Z M304.1,257.9 L409.2,290.5 A18.0,18.0 0 0 0 419.9,256.1 L314.8,223.5 A18.0,18.0 0 0 0 304.1,257.9 Z M315.1,252.9 L403.0,280.2 A10.0,10.0 0 0 0 408.9,261.1 L321.0,233.8 A10.0,10.0 0 0 0 315.1,252.9 Z M330.0,209.2 L383.5,225.8 A11.0,11.0 0 0 0 390.0,204.8 L336.5,188.2 A11.0,11.0 0 0 0 330.0,209.2 Z M242.2,297.6 L394.9,345.1 A15.0,15.0 0 0 0 403.8,316.4 L251.1,268.9 A15.0,15.0 0 0 0 242.2,297.6 Z M250.6,293.9 L390.0,337.3 A9.0,9.0 0 0 0 395.4,320.1 L256.0,276.7 A9.0,9.0 0 0 0 250.6,293.9 Z M404.8,326.5 L437.3,336.6 A10.0,10.0 0 0 0 443.2,317.5 L410.7,307.4 A10.0,10.0 0 0 0 404.8,326.5 Z M430.2,262.3 L458.8,271.2 A5.0,5.0 0 0 0 461.8,261.7 L433.2,252.8 A5.0,5.0 0 0 0 430.2,262.3 Z M665.7,311.4 L770.7,344.1 A6.0,6.0 0 0 0 774.3,332.6 L669.3,299.9 A6.0,6.0 0 0 0 665.7,311.4 Z M660.7,341.4 L765.7,374.1 A6.0,6.0 0 0 0 769.3,362.6 L664.3,329.9 A6.0,6.0 0 0 0 660.7,341.4 Z M657.7,371.4 L762.7,404.1 A6.0,6.0 0 0 0 766.3,392.6 L661.3,359.9 A6.0,6.0 0 0 0 657.7,371.4 Z M663.2,404.4 L749.2,431.1 A6.0,6.0 0 0 0 752.8,419.6 L666.8,392.9 A6.0,6.0 0 0 0 663.2,404.4 Z M613.3,268.1 L640.0,276.5 A4.5,4.5 0 0 0 642.7,267.9 L616.0,259.5 A4.5,4.5 0 0 0 613.3,268.1 Z M647.3,280.1 L674.0,288.5 A4.5,4.5 0 0 0 676.7,279.9 L650.0,271.5 A4.5,4.5 0 0 0 647.3,280.1 Z M607.2,408.8 L632.0,416.5 A8.0,8.0 0 0 0 636.8,401.2 L612.0,393.5 A8.0,8.0 0 0 0 607.2,408.8 Z"/>
<path class="m" d="M284.4,227.6 L280.0,249.2 A8.0,8.0 0 0 0 295.6,252.4 L300.0,230.8 A8.0,8.0 0 0 0 284.4,227.6 Z M792.1,355.9 L786.1,385.3 A7.0,7.0 0 0 0 799.9,388.1 L805.9,358.7 A7.0,7.0 0 0 0 792.1,355.9 Z"/>
<rect x="227" y="210" width="36" height="32" rx="9" class="m" transform="rotate(17 245 226)"/>
<circle cx="303" cy="306" r="5" class="m"/><circle cx="370" cy="330" r="5" class="m"/>
<path class="m" d="M444.2,363.2 L483.4,239.2 A4.0,4.0 0 0 0 475.8,236.8 L436.6,360.8 A4.0,4.0 0 0 0 444.2,363.2 Z M564.2,467.6 L615.4,305.5 A5.0,5.0 0 0 0 605.8,302.4 L554.6,464.5 A5.0,5.0 0 0 0 564.2,467.6 Z M421.2,542.7 L466.4,399.7 A4.0,4.0 0 0 0 458.8,397.3 L413.6,540.3 A4.0,4.0 0 0 0 421.2,542.7 Z M524.8,478.1 L560.9,363.7 A3.0,3.0 0 0 0 555.2,361.9 L519.1,476.3 A3.0,3.0 0 0 0 524.8,478.1 Z"/>
<path class="t" d="M476.4,324.0 L495.2,309.1 A4.5,4.5 0 0 0 489.6,302.0 L470.8,316.9 A4.5,4.5 0 0 0 476.4,324.0 Z M478.4,360.3 L533.2,316.7 A4.5,4.5 0 0 0 527.6,309.7 L472.8,353.3 A4.5,4.5 0 0 0 478.4,360.3 Z M524.1,362.9 L547.5,344.2 A4.5,4.5 0 0 0 541.9,337.1 L518.5,355.8 A4.5,4.5 0 0 0 524.1,362.9 Z M557.1,337.9 L580.5,319.2 A4.5,4.5 0 0 0 574.9,312.1 L551.5,330.8 A4.5,4.5 0 0 0 557.1,337.9 Z M471.1,416.0 L502.5,391.1 A4.5,4.5 0 0 0 496.9,384.0 L465.5,408.9 A4.5,4.5 0 0 0 471.1,416.0 Z M513.1,425.2 L572.5,377.9 A4.5,4.5 0 0 0 566.9,370.8 L507.5,418.1 A4.5,4.5 0 0 0 513.1,425.2 Z M503.4,356.0 L522.2,341.1 A4.5,4.5 0 0 0 516.6,334.0 L497.8,348.9 A4.5,4.5 0 0 0 503.4,356.0 Z M517.1,471.0 L548.5,446.1 A4.5,4.5 0 0 0 542.9,439.0 L511.5,463.9 A4.5,4.5 0 0 0 517.1,471.0 Z"/>
<path class="t" d="M594,310 l12,-4 M590,323 l12,-4 M586,336 l12,-4 M582,349 l12,-4 M578,362 l12,-4 M574,375 l12,-4 M570,388 l12,-4 M566,401 l12,-4 M562,414 l12,-4 M558,427 l12,-4 M554,440 l12,-4 M550,453 l12,-4"/>
<ellipse cx="370" cy="668" rx="20" ry="30" class="mw" transform="rotate(15 370 668)"/>
<ellipse cx="652" cy="715" rx="20" ry="30" class="mw" transform="rotate(15 652 715)"/>
<circle cx="190" cy="190" r="4" class="t"/>
<circle cx="155" cy="312" r="4" class="t"/>
<circle cx="205" cy="132" r="3" class="t"/>
<circle cx="300" cy="312" r="4" class="t"/>
<circle cx="372" cy="330" r="4" class="t"/>
<circle cx="192" cy="282" r="5" class="t"/>
<circle cx="415" cy="210" r="5" class="t"/>
<circle cx="330" cy="175" r="4" class="t"/>
<circle cx="700" cy="430" r="5" class="t"/>
<circle cx="745" cy="318" r="4" class="t"/>
<circle cx="670" cy="295" r="5" class="t"/>
<path class="t" d="M215,128 L225,225 M215,128 L822,316"/>
<path class="m" d="M235,180 L240,215 C245,225 260,225 262,212"/>
<path class="ld" d="M538,30 L468,186"/>
</g>
<text x="639.2" y="243.6" style="font-size:16.8px" textLength="8.7" lengthAdjust="spacingAndGlyphs">6</text>
<!-- part 7: 8x zoom origin (700,270) -->
<path class="t" d="M706.3,370.6 L735.8,358"/>
<g transform="translate(700,270) scale(0.12579)">
 <path class="kw" style="stroke-width:2.2" d="M330,530 C338,505 360,495 385,502 L460,525 C488,535 498,555 493,585 L432,850 C425,880 400,895 372,886 L290,858 C262,848 250,828 258,800 Z"/>
 <path class="m" d="M345,540 C350,525 365,518 382,523 L455,545 C472,552 478,565 474,585 L416,840 C410,860 395,868 376,862 L300,836 C282,828 276,815 282,795 Z"/>
 <path class="m" d="M300,660 L440,700 M290,720 L420,760 M280,790 L405,830 M390,525 L330,790 M440,560 L385,830 M350,580 L440,610"/>
 <path class="b" d="M360,565 L400,578 L395,600 L352,588 Z M420,600 L445,608 L430,680 L410,672 Z M300,700 L330,710 L325,735 L296,725 Z M290,800 L400,835 L396,850 L286,815 Z M370,740 L400,750 L395,765 L366,755 Z"/>
 <path class="ld" d="M600,215 L455,520"/>
</g>
<text x="775.6" y="293.5" style="font-size:16.8px" textLength="8.7" lengthAdjust="spacingAndGlyphs">7</text>
<!-- cushion 30 : 3.546x zoom origin (60,560) -->
<g transform="translate(60,560) scale(0.282)">
 <path class="mw" d="M575,108 L608,99 L812,166 C826,172 828,184 815,190 L770,190 Z"/>
 <path class="kw" d="M225,205 L525,98 L770,190 L752,212 C750,220 756,226 764,224 L822,206 C828,204 830,210 824,214 L790,222 L772,256 C680,320 560,362 497,372 C488,376 478,377 468,374 L236,292 C226,288 221,282 222,272 Z"/>
 <path class="k" d="M525,98 L770,190"/>
 <path class="t" d="M232,214 L462,296 C470,299 478,299 486,296 L750,196 M234,222 L232,280 M474,300 L470,372 M228,282 L468,366 L494,364 C560,354 680,312 768,248"/>
 <path class="m" d="M770,190 C790,196 810,196 822,190"/>
 <path class="ld" d="M100,355 L222,283"/>
</g>
<text x="65.6" y="672.2" style="font-size:16.8px" textLength="17.4" lengthAdjust="spacingAndGlyphs">30</text>
<!-- cushion 15 : 3.546x zoom origin (280,540) -->
<g transform="translate(280,540) scale(0.282)">
 <path class="t" d="M215,48 L365,100 M640,225 L790,280"/>
 <path class="kw" d="M105,195 L400,95 L640,180 C652,186 660,196 658,208 L652,232 L640,246 C560,305 450,345 372,362 C362,366 352,367 342,364 L112,282 C104,278 100,272 100,264 Z"/>
 <path class="t" d="M112,206 L340,288 C348,291 356,291 364,288 L636,186 M114,214 L112,272 M352,294 L350,362 M108,272 L344,356 L368,354 C450,337 560,297 640,238"/>
 <path class="m" d="M548,214 L636,184 M560,220 L598,256 L640,240 M572,222 L604,248"/>
 <circle cx="624" cy="216" r="8" class="mw"/>
 <path class="kw" d="M644,200 L660,204 L662,214 L646,212 Z"/>
 <path class="ld" d="M112,408 L235,335 M672,368 L800,290 M85,130 L160,105 M668,70 L712,-28"/>
 <!-- nut 14 -->
 <circle cx="810" cy="284" r="10" class="kw" style="stroke-width:1.9"/>
 <circle cx="810" cy="284" r="3" class="g"/>
</g>
<text x="291.2" y="667.9" style="font-size:16.8px" textLength="17.4" lengthAdjust="spacingAndGlyphs">15</text>
<text x="450.0" y="654.5" style="font-size:16.8px" textLength="17.4" lengthAdjust="spacingAndGlyphs">14</text>
<text x="281.8" y="588.1" style="font-size:16.8px" textLength="17.4" lengthAdjust="spacingAndGlyphs">17</text>
<text x="459.2" y="576.3" style="font-size:16.8px" textLength="8.7" lengthAdjust="spacingAndGlyphs">8</text>
<!-- parts 16-19 : 7.09x zoom origin (283,490) -->
<g transform="translate(283,490) scale(0.141)">
 <path class="t" d="M674,-265 L515,335 L465,325 M230,295 L520,395 M350,425 L700,550"/>
 <!-- 18 -->
 <path class="kw" style="stroke-width:2" d="M190,255 L275,238 L272,330 L265,400 L235,490 L190,550 L160,522 L125,470 L128,380 L150,300 Z"/>
 <path class="m" d="M200,275 C170,300 150,360 150,420 C152,450 165,470 180,480 M215,300 C190,330 178,380 182,420 M160,340 L200,360 M150,440 L200,420"/>
 <ellipse cx="195" cy="380" rx="22" ry="40" class="m" transform="rotate(15 195 380)"/>
 <ellipse cx="195" cy="380" rx="10" ry="22" class="b" transform="rotate(15 195 380)"/>
 <circle cx="180" cy="490" r="9" class="m"/><circle cx="215" cy="295" r="6" class="t"/>
 <path class="b" d="M150,350 l25,-20 l8,10 l-25,20 Z M160,400 l20,10 l-5,12 l-20,-10 Z"/>
 <!-- 17 -->
 <path class="kw" d="M375,268 L455,298 L445,328 L365,300 Z"/>
 <path class="kw" style="stroke-width:2" d="M300,335 L362,300 L445,322 L425,420 L410,480 L388,598 L340,606 L290,560 L270,500 L280,400 Z"/>
 <path class="m" d="M320,345 L300,420 L295,500 L345,585 M310,440 C330,470 350,480 370,470 M300,500 C320,490 345,495 350,520"/>
 <path class="mw" d="M350,410 L400,425 L396,445 L346,430 Z"/>
 <circle cx="365" cy="555" r="12" class="mw"/>
 <circle cx="318" cy="430" r="7" class="t"/><circle cx="325" cy="540" r="4" class="t"/>
 <path class="k" d="M410,480 L400,530 M292,565 L300,590 L340,606"/>
 <!-- 19 -->
 <circle cx="327" cy="272" r="17" class="kw" style="stroke-width:2.3;fill:#999"/>
 
 <!-- 16 -->
 <path class="kw" d="M522,388 L560,398 L556,420 L518,410 Z"/>
 <path class="t" d="M532,392 l-3,20 M542,394 l-3,20 M552,396 l-3,20"/>
 <ellipse cx="575" cy="412" rx="14" ry="22" class="kw" style="stroke-width:2.2" transform="rotate(15 575 412)"/>
 <path class="ld" d="M295,180 L320,254 M745,355 L592,400"/>
</g>
<text x="312.0" y="510.9" style="font-size:16.8px" textLength="17.4" lengthAdjust="spacingAndGlyphs">19</text>
<text x="391.6" y="541.1" style="font-size:16.8px" textLength="17.4" lengthAdjust="spacingAndGlyphs">16</text>
<!-- parts 8,9,10,11 : 5.32x zoom origin (460,510) -->
<g transform="translate(460,510) scale(0.188)">
 <path class="t" d="M240,0 L135,420 L205,436 M0,495 L240,575 M245,500 L340,536"/>
 <!-- 8 -->
 <path class="kw" d="M150,98 L178,108 L180,130 L150,135 Z"/>
 <path class="m" d="M160,102 L160,132 M170,106 L170,131"/>
 <circle cx="125" cy="110" r="31" class="kw" style="stroke-width:2.2"/>
 <path class="m" d="M108,85 C98,100 98,122 110,137 M140,92 L152,100 M140,128 L152,132"/>
 <!-- 9 -->
 <path class="kw" d="M112,547 C110,530 114,518 119,509 L206,415 L256,422 L250,440 L214,437 L208,472 L238,478 L226,559 L144,556 L126,565 C118,566 112,558 112,547 Z"/>
 <path class="m" d="M208,472 L222,492 L216,556 M214,437 L206,415"/>
 <path class="k" d="M150,522 C158,506 168,508 171,524 C174,540 184,538 190,520 M205,508 L203,520"/>
 <!-- 10 -->
 <path class="kw" d="M280,462 L300,468 L298,482 L278,476 Z"/>
 <circle cx="310" cy="480" r="13" class="kw" style="stroke-width:2.2"/>
 <circle cx="310" cy="480" r="5" class="g"/>
 <!-- 11 -->
 <path class="kw" d="M325,600 C322,575 328,558 340,546 L415,484 C422,478 430,478 440,482 L485,495 L470,560 L445,648 L402,640 L396,604 C385,598 376,604 376,616 L366,632 C355,640 340,636 334,624 Z"/>
 <path class="t" d="M360,548 L420,498 L445,498 M402,604 L420,600"/>
 <path class="k" style="stroke-width:2.2" d="M440,482 L485,495"/>
 <path class="ld" d="M42,270 L100,140 M378,245 L240,415 M395,425 L318,470 M685,380 L487,490"/>
</g>
<text x="532.0" y="553.5" style="font-size:16.8px" textLength="8.7" lengthAdjust="spacingAndGlyphs">9</text>
<text x="535.4" y="588.3" style="font-size:16.8px" textLength="17.4" lengthAdjust="spacingAndGlyphs">10</text>
<text x="589.0" y="580.7" style="font-size:16.8px" textLength="17.4" lengthAdjust="spacingAndGlyphs">11</text>
<path class="t" d="M467.4,480.3 L509.2,493.2 L505.1,510"/>
<!-- part 12 : 4x zoom origin (575,580) -->
<g transform="translate(575,580) scale(0.25)">
 <!-- right/back panel -->
 <path class="mw" d="M490,190 L520,100 L888,216 L768,692 L760,700 L688,684 L676,676 L664,688 L628,832 L676,832 L716,836 L724,848 L720,868 L672,872 L660,888 L668,904 L712,916 L696,968 L684,980 L652,984 L612,968 L432,912 L300,870 L380,500 Z"/>
 <path class="k" d="M520,100 L888,216"/>
 <path class="k" d="M688,684 L676,676 L664,688 L628,832 M716,836 L724,848 L720,868 L672,872 L660,888 L668,904 L712,916 L696,968"/>
 <path class="k" d="M432,912 L612,968"/>
 <path class="t" d="M756,480 L704,676 M696,688 L656,836 M608,848 C604,912 620,960 652,982 M628,832 L608,848 L588,816"/>
 <path class="m" d="M464,760 L580,796 C588,800 590,806 588,810 C586,816 580,818 574,816 L460,780 M460,796 L500,806"/>
 <path class="m" d="M470,290 L476,302 L790,408 L800,396 L782,390 M476,302 L480,310 L785,412"/>
 <path class="t" d="M851,232 C790,245 750,290 735,370"/>
 <path class="k" d="M530,340 L496,470"/>
 <path class="m" d="M530,345 L765,420 L704,676 M522,338 L490,462"/>
 <path class="t" d="M745,560 L715,680"/>
</g>
<!-- hump : 6x zoom origin (575,580) -->
<g transform="translate(575,580) scale(0.166667)">
 <path class="mw" d="M40,470 L50,320 L75,245 L160,262 L185,300 L200,400 Z" style="stroke:none"/>
 <path class="m" d="M40,470 L50,320 L75,245 L160,262 C175,270 182,285 185,300"/>
 <path class="t" d="M55,322 L180,328 M62,310 L176,316"/>
 <path class="mw" style="stroke:none" d="M180,240 L185,180 L245,132 L440,52 L500,48 L780,150 L735,290 L660,420 L610,660 L470,615 L350,575 L260,500 L200,400 Z"/>
 <path class="k" d="M180,240 L185,182 C200,160 225,140 245,132 L272,126 L440,52 C460,44 480,44 500,48 L780,150"/>
 <path class="t" d="M200,212 L282,142 L442,70"/>
 <path class="m" d="M180,240 L200,400 L215,440 L260,500 L350,575"/>
 <path class="t" d="M205,400 L240,470 M215,440 L222,480 L215,530 L240,525 L270,545 M222,480 L255,520"/>
 <path class="m" d="M735,290 C700,310 680,350 660,420 L610,660 M760,285 C722,320 700,380 690,440 L640,665"/>
 <path class="t" d="M720,300 C690,330 672,370 655,430 L620,600"/>
 <path class="t" d="M470,615 L560,600 L620,540 L612,602 L520,628 M575,650 L600,640 L610,660 M570,595 L610,560"/>
 <ellipse cx="478" cy="105" rx="62" ry="30" class="m" transform="rotate(-5 478 105)"/><ellipse cx="478" cy="102" rx="40" ry="17" class="t" transform="rotate(-5 478 102)"/>
 <ellipse cx="622" cy="155" rx="62" ry="30" class="m" transform="rotate(-5 622 155)"/><ellipse cx="622" cy="152" rx="40" ry="17" class="t" transform="rotate(-5 622 152)"/>
 <path class="mw" d="M652,215 C645,205 655,195 668,190 L730,166 L851,200 L905,218 C915,224 912,232 902,238 L835,255 C820,262 808,262 795,258 L672,228 Z"/>
 <path class="b" d="M680,212 L740,186 L870,222 L812,246 Z"/>
 <path class="t" style="stroke:#fff" d="M700,212 L800,240 M715,200 L830,232"/>
 <path class="mw" d="M735,208 L810,226 L800,238 L726,220 Z"/>
 <path class="t" d="M708,425 L851,470 M712,440 L851,485 M790,500 L745,700"/>
 <path class="k" d="M708,425 L735,290"/>
</g>
<path class="ld" d="M724.6,564.8 L706.6,604.6"/>
<text x="721.2" y="560.8" style="font-size:16.8px" textLength="17.4" lengthAdjust="spacingAndGlyphs">12</text>
<!-- seat 13 : 3.404x zoom origin (460,630) -->
<g transform="translate(460,630) scale(0.29377)">
 <path class="kw" d="M240,70 C200,75 150,100 130,125 C118,145 112,160 110,170 L80,256 C75,270 74,280 74,290 L74,376 L52,461 L27,579 C12,640 18,690 45,715 C60,728 80,733 100,738 L375,832 L600,906 C625,912 645,905 655,890 L690,760 L812,272 C814,262 808,256 800,254 L590,188 Z"/>
 <path class="k" d="M804,264 L648,890"/>
 <path class="k" d="M590,188 C550,195 510,215 490,250 C470,280 460,310 452,340 L362,690 C355,720 350,760 352,790 C355,815 365,828 375,832"/>
 <path class="t" d="M472,245 C440,300 415,380 400,430 L375,480 L345,600 C335,650 322,710 320,750 C320,780 325,800 332,816"/>
 <path class="t" d="M462,262 C435,320 410,390 392,450"/>
 <path class="t" d="M145,125 L180,360 C230,410 310,440 340,445 L400,435"/>
 <path class="t" d="M180,360 L150,450 L135,520 C190,570 260,600 295,607 L355,598"/>
 <path class="t" d="M135,520 L110,600 C100,650 92,700 95,735"/>
 <path class="t" d="M455,340 L680,410 M360,720 L580,790"/>
 <path class="t" d="M800,275 C740,300 700,340 680,410 L600,710 C585,780 580,830 590,870 C600,895 620,900 640,900"/>
 <path class="t" d="M130,125 C135,122 142,122 148,126 M335,620 l-3,20"/>
</g>
<path class="ld" d="M439.5,733.4 L480.6,744.8"/>
<text x="419.4" y="736.9" style="font-size:16.8px" textLength="17.4" lengthAdjust="spacingAndGlyphs">13</text>
<!-- sr box -->
<rect x="24.7" y="904.7" width="23.4" height="17.2" fill="#fff" stroke="#000" stroke-width="1.4"/>
<text x="31" y="916.6" style="font-size:13px" textLength="10.2" lengthAdjust="spacingAndGlyphs">sr</text>
<!-- GM logo -->
<rect x="803.1" y="904.2" width="23.6" height="28.4" fill="#fff" stroke="#000" stroke-width="0.7"/>
<rect x="804.7" y="906.1" width="20.4" height="24.9" fill="#000"/>
<text x="807.2" y="918.2" style="font-size:14px;font-weight:bold;fill:#fff;stroke:none" textLength="14.8" lengthAdjust="spacingAndGlyphs">GM</text>
<rect x="807.3" y="920.3" width="14.7" height="2" fill="#fff"/>
<rect x="807.3" y="924.1" width="14.7" height="5" fill="#fff"/>
<text x="808.6" y="928.6" style="font-size:5px;font-weight:bold;fill:#222;stroke:none" textLength="12" lengthAdjust="spacingAndGlyphs">CCA</text>
</svg>
</body></html>
